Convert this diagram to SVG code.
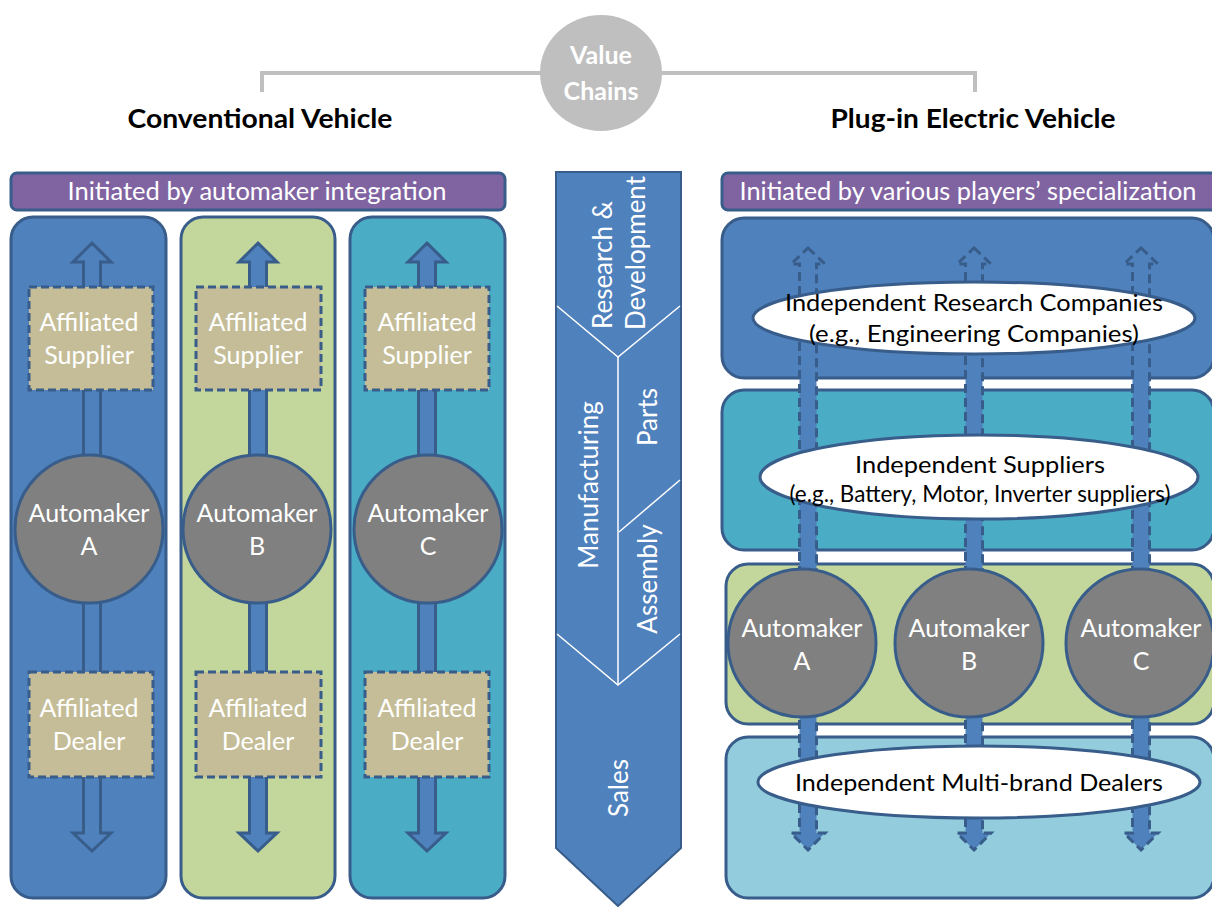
<svg xmlns="http://www.w3.org/2000/svg" width="1212" height="907" viewBox="0 0 1212 907">
<style>
.t{font-family:Lato,"Open Sans","Liberation Sans",sans-serif;text-anchor:middle}
.w{fill:#fff;font-size:25px}
.cv{fill:#fff;font-size:26px}
.k{fill:#000;font-size:24px}
.hd{fill:#000;font-size:26px;font-weight:bold}
.col{stroke:#385D8A;stroke-width:3}
.hdr{fill:#8064A2;stroke:#385D8A;stroke-width:3}
.arrL{fill:#4F81BD;stroke:#385D8A;stroke-width:3}
.arrR{fill:#4F81BD;stroke:#385D8A;stroke-width:3;stroke-dasharray:9 5}
.aff{fill:#C4BD97;stroke:#385D8A;stroke-width:3;stroke-dasharray:8 4}
.auto{fill:#808080;stroke:#385D8A;stroke-width:3}
.ell{fill:#fff;stroke:#385D8A;stroke-width:3}
.sep{fill:none;stroke:#fff;stroke-width:1.5}
</style>
<rect width="1212" height="907" fill="#fff"/>

<!-- top bracket -->
<g id="bracket">
<path d="M262,92 V73 H975 V92" fill="none" stroke="#BFBFBF" stroke-width="4"/>
</g>
<g id="value-chains">
<ellipse cx="601" cy="73" rx="61" ry="58" fill="#BFBFBF"/>
<text class="t" x="601" y="64" fill="#fff" font-size="25" font-weight="bold">Value</text>
<text class="t" x="601" y="100" fill="#fff" font-size="25" font-weight="bold">Chains</text>
</g>
<g id="title-conv"><text class="t hd" x="260" y="128" textLength="265" lengthAdjust="spacingAndGlyphs">Conventional Vehicle</text></g>
<g id="title-pev"><text class="t hd" x="973" y="128" textLength="285" lengthAdjust="spacingAndGlyphs">Plug-in Electric Vehicle</text></g>

<!-- headers -->
<g id="header-left">
<rect class="hdr" x="11" y="173" width="494" height="37" rx="6"/>
<text class="t w" x="257" y="200" textLength="379" lengthAdjust="spacingAndGlyphs">Initiated by automaker integration</text>
</g>
<g id="header-right">
<rect class="hdr" x="722" y="173" width="500" height="37" rx="6"/>
<text class="t w" x="968" y="200" textLength="457" lengthAdjust="spacingAndGlyphs">Initiated by various players’ specialization</text>
</g>

<!-- left columns -->
<g id="column-a"><rect class="col" x="11" y="217" width="155" height="681" rx="22" fill="#4F81BD"/></g>
<g id="column-b"><rect class="col" x="181" y="217" width="154" height="681" rx="22" fill="#C3D69B"/></g>
<g id="column-c"><rect class="col" x="350" y="217" width="155" height="681" rx="22" fill="#4BACC6"/></g>

<!-- right bands -->
<g id="band-rd"><rect class="col" x="722" y="218" width="492" height="160" rx="22" fill="#4F81BD"/></g>
<g id="band-sup"><rect class="col" x="722" y="390" width="492" height="160" rx="22" fill="#4BACC6"/></g>
<g id="band-auto"><rect class="col" x="726" y="564" width="488" height="160" rx="22" fill="#C3D69B"/></g>
<g id="band-dealer"><rect class="col" x="726" y="737" width="488" height="161" rx="22" fill="#93CDDD"/></g>

<!-- middle chevron -->
<g id="chevron">
<polygon points="556,172 681,172 681,848 618,906 556,848" fill="#4F81BD" stroke="#385D8A" stroke-width="2"/>
<polyline class="sep" points="557,306 618,357 680,306"/>
<line class="sep" x1="618" y1="357" x2="618" y2="685"/>
<polyline class="sep" points="557,634 618,685 680,634"/>
<line class="sep" x1="680" y1="480" x2="619" y2="532"/>
<text class="t cv" transform="translate(612,265) rotate(-90)">Research &amp;</text>
<text class="t cv" transform="translate(645,253) rotate(-90)">Development</text>
<text class="t cv" transform="translate(598,485) rotate(-90)">Manufacturing</text>
<text class="t cv" transform="translate(657,417) rotate(-90)">Parts</text>
<text class="t cv" transform="translate(657,579) rotate(-90)">Assembly</text>
<text class="t cv" transform="translate(628,788) rotate(-90)">Sales</text>
</g>

<!-- connectors -->
<g id="connectors">
<polygon class="arrL" points="92,243 111,262 100.5,262 100.5,833 111,833 92,851 73,833 83.5,833 83.5,262 73,262"/>
<polygon class="arrL" points="258,243 277,262 266.5,262 266.5,833 277,833 258,851 239,833 249.5,833 249.5,262 239,262"/>
<polygon class="arrL" points="427,243 446,262 435.5,262 435.5,833 446,833 427,851 408,833 418.5,833 418.5,262 408,262"/>
<polygon class="arrR" points="808,248 825,264 816.5,264 816.5,833 825,833 808,850 791,833 799.5,833 799.5,264 791,264"/>
<polygon class="arrR" points="974,248 991,264 982.5,264 982.5,833 991,833 974,850 957,833 965.5,833 965.5,264 957,264"/>
<polygon class="arrR" points="1141,248 1158,264 1149.5,264 1149.5,833 1158,833 1141,850 1124,833 1132.5,833 1132.5,264 1124,264"/>
</g>

<!-- left nodes -->
<g id="supplier-a"><rect class="aff" x="29" y="287" width="124" height="103"/>
<text class="t w" x="89" y="331">Affiliated</text><text class="t w" x="89" y="364">Supplier</text></g>
<g id="supplier-b"><rect class="aff" x="196" y="287" width="125" height="103"/>
<text class="t w" x="258" y="331">Affiliated</text><text class="t w" x="258" y="364">Supplier</text></g>
<g id="supplier-c"><rect class="aff" x="365" y="287" width="124" height="103"/>
<text class="t w" x="427" y="331">Affiliated</text><text class="t w" x="427" y="364">Supplier</text></g>

<g id="automaker-a-left"><circle class="auto" cx="89" cy="529" r="74"/>
<text class="t w" x="89" y="522">Automaker</text><text class="t w" x="89" y="555">A</text></g>
<g id="automaker-b-left"><circle class="auto" cx="257" cy="529" r="74"/>
<text class="t w" x="257" y="522">Automaker</text><text class="t w" x="257" y="555">B</text></g>
<g id="automaker-c-left"><circle class="auto" cx="428" cy="529" r="74"/>
<text class="t w" x="428" y="522">Automaker</text><text class="t w" x="428" y="555">C</text></g>

<g id="dealer-a"><rect class="aff" x="29" y="672" width="124" height="105"/>
<text class="t w" x="89" y="717">Affiliated</text><text class="t w" x="89" y="750">Dealer</text></g>
<g id="dealer-b"><rect class="aff" x="196" y="672" width="125" height="105"/>
<text class="t w" x="258" y="717">Affiliated</text><text class="t w" x="258" y="750">Dealer</text></g>
<g id="dealer-c"><rect class="aff" x="365" y="672" width="124" height="105"/>
<text class="t w" x="427" y="717">Affiliated</text><text class="t w" x="427" y="750">Dealer</text></g>

<!-- right nodes -->
<g id="research-companies"><ellipse class="ell" cx="974" cy="318" rx="221" ry="36"/>
<text class="t k" x="974" y="311" textLength="378" lengthAdjust="spacingAndGlyphs">Independent Research Companies</text>
<text class="t k" x="974" y="342" textLength="330" lengthAdjust="spacingAndGlyphs">(e.g., Engineering Companies)</text></g>
<g id="suppliers"><ellipse class="ell" cx="979" cy="477" rx="219" ry="42"/>
<text class="t k" x="980" y="473" textLength="250" lengthAdjust="spacingAndGlyphs">Independent Suppliers</text>
<text class="t k" x="980" y="502" font-size="21" textLength="381" lengthAdjust="spacingAndGlyphs">(e.g., Battery, Motor, Inverter suppliers)</text></g>
<g id="automaker-a-right"><circle class="auto" cx="802" cy="643" r="74"/>
<text class="t w" x="802" y="637">Automaker</text><text class="t w" x="802" y="670">A</text></g>
<g id="automaker-b-right"><circle class="auto" cx="969" cy="643" r="74"/>
<text class="t w" x="969" y="637">Automaker</text><text class="t w" x="969" y="670">B</text></g>
<g id="automaker-c-right"><circle class="auto" cx="1140" cy="643" r="74"/>
<text class="t w" x="1141" y="637">Automaker</text><text class="t w" x="1141" y="670">C</text></g>
<g id="dealers"><ellipse class="ell" cx="979" cy="782" rx="221" ry="36"/>
<text class="t k" x="979" y="791" textLength="368" lengthAdjust="spacingAndGlyphs">Independent Multi-brand Dealers</text></g>
</svg>
